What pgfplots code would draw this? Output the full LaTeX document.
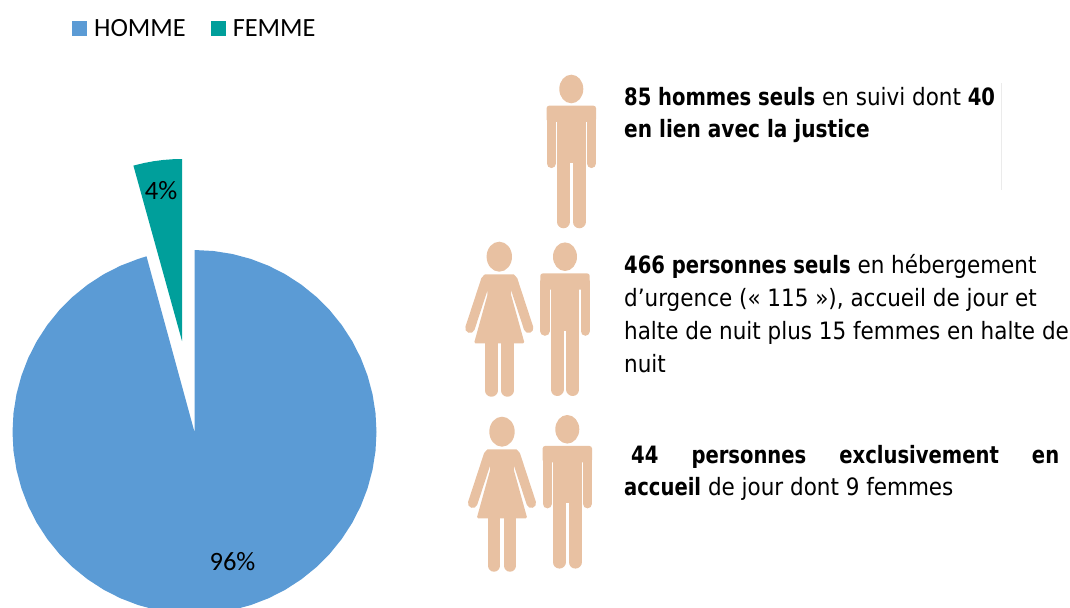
\documentclass[border=0pt]{standalone}
\usepackage{fontspec}
\usepackage{graphicx}
\usepackage{pgfplots}
\pgfplotsset{compat=1.18}
\setmainfont{Carlito}
\newfontfamily\bodyf{DejaVu Sans Condensed}
\definecolor{piblue}{HTML}{5B9BD5}
\definecolor{piteal}{HTML}{009F9B}
\definecolor{skin}{HTML}{E8C1A2}
\newcommand{\man}[2]{\begin{scope}[shift={(#1,#2)}]
 \fill[skin] (0,0) ellipse [x radius=12,y radius=14.3];
 \fill[skin,rounded corners=2.5bp] (-24.7,16.7) rectangle (24.7,33);
 \fill[skin] (-14.2,28) rectangle (14.2,74);
 \draw[skin,line width=9.2bp,line cap=round] (-20.1,25) -- (-20.1,74.5) (20.1,25) -- (20.1,74.5);
 \draw[skin,line width=13bp,line cap=round] (-7.9,66) -- (-7.9,132.8) (7.9,66) -- (7.9,132.8);
\end{scope}}
\newcommand{\woman}[2]{\begin{scope}[shift={(#1,#2)}]
 \fill[skin] (0,0) ellipse [x radius=12.7,y radius=15];
 \fill[skin,rounded corners=1.5bp] (-16,17.7) -- (16,17.7) -- (11.5,37) -- (25.3,86.7) -- (-25.3,86.7) -- (-11.5,37) -- cycle;
 \draw[skin,line width=9.6bp,line cap=round] (-13.4,23) -- (-29.3,71.5) (13.4,23) -- (29.3,71.5);
 \draw[skin,line width=12.5bp,line cap=round] (-8,80) -- (-8,133.8) (8,80) -- (8,133.8);
\end{scope}}
\newcommand{\tl}[3]{\node[anchor=base west,inner sep=0pt,font=\bodyf\fontsize{23.9bp}{28bp}\selectfont] at (#1,#2) {#3};}
\newcommand{\B}[1]{\scalebox{0.91}[1]{\bfseries #1}}
\begin{document}
\begin{tikzpicture}
\useasboundingbox (0,0) rectangle (1070bp,608bp);
\begin{axis}[
  scale only axis, width=1070bp, height=608bp,
  xmin=0, xmax=1070, ymin=0, ymax=608, y dir=reverse,
  axis lines=none, clip=true,
  legend columns=2,
  legend style={at={(axis cs:72,29)}, anchor=west, draw=none, fill=none, inner sep=0pt,
    font=\fontsize{26.3bp}{28bp}\selectfont,
    /tikz/every odd column/.append style={column sep=5bp},
    /tikz/every even column/.append style={column sep=23bp}},
  legend image code/.code={\fill[#1] (0bp,-7.5bp) rectangle (15bp,7.5bp);},
]
% HOMME 96 %
\addplot[fill=piblue, draw=none] coordinates {
(194.5,432)(194.5,250)(213.52,251)(232.34,253.98)(250.74,258.91)(268.53,265.73)(285.5,274.38)
(301.48,284.76)(316.28,296.75)(329.75,310.22)(341.74,325.02)(352.12,341)(360.77,357.97)
(367.59,375.76)(372.52,394.16)(375.5,412.98)(376.5,432)(375.5,451.02)(372.52,469.84)
(367.59,488.24)(360.77,506.03)(352.12,523)(341.74,538.98)(329.75,553.78)(316.28,567.25)
(301.48,579.24)(285.5,589.62)(268.53,598.27)(250.74,605.09)(232.34,610.02)(213.52,613)
(194.5,614)(175.48,613)(156.66,610.02)(138.26,605.09)(120.47,598.27)(103.5,589.62)
(87.52,579.24)(72.72,567.25)(59.25,553.78)(47.26,538.98)(36.88,523)(28.23,506.03)
(21.41,488.24)(16.48,469.84)(13.5,451.02)(12.5,432)(13.5,412.98)(16.48,394.16)
(21.41,375.76)(28.23,357.97)(36.88,341)(47.26,325.02)(59.25,310.22)(72.72,296.75)
(87.52,284.76)(103.5,274.38)(120.47,265.73)(138.26,258.91)(146.5,256.3)(194.5,432)
};
\addlegendentry{HOMME}
% FEMME 4 %
\addplot[fill=piteal, draw=none] coordinates {
(182,341)(133.4,165.6)(144.16,162.98)(153.53,161.24)(162.98,160)(172.48,159.25)(182,159)(182,341)
};
\addlegendentry{FEMME}
\node[font=\fontsize{26.5bp}{28bp}\selectfont] at (axis cs:232.5,562) {96\%};
\node[font=\fontsize{26.5bp}{28bp}\selectfont] at (axis cs:161,191) {4\%};
\end{axis}
\begin{scope}[x=1bp,y=-1bp,yshift=608bp]
\draw[color=black!8,line width=0.8bp] (1001,83) -- (1001,190);
\man{571.3}{89}
\woman{499.3}{256.7}
\man{565}{256.7}
\woman{502}{431.7}
\man{567.3}{429.3}
\tl{624}{106}{\B{85 hommes seuls} en suivi dont \B{40}}
\tl{624}{138}{\scalebox{0.935}[1]{\bfseries en lien avec la justice}}
\tl{624}{274}{\B{466 personnes seuls} en hébergement}
\tl{624}{307}{d’urgence (« 115 »), accueil de jour et}
\tl{624}{340}{halte de nuit plus 15 femmes en halte de}
\tl{624}{373}{nuit}
\tl{631}{464}{\makebox[428bp][s]{\B{44}\hfill\B{personnes}\hfill\B{exclusivement}\hfill\B{en}}}
\tl{624}{496}{\B{accueil} de jour dont 9 femmes}
\end{scope}
\end{tikzpicture}
\end{document}
